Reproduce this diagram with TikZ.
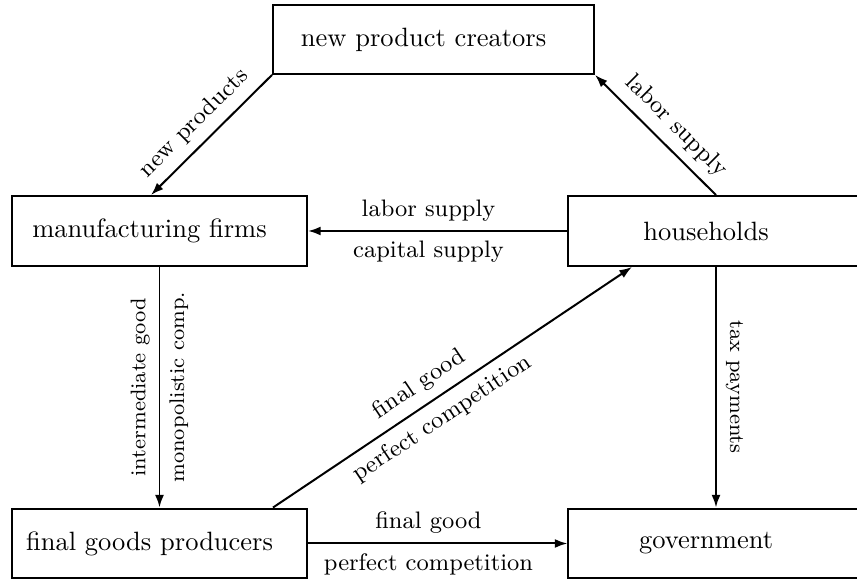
\documentclass[tikz,border=0pt]{standalone}
\usetikzlibrary{arrows.meta,calc}
\newcommand{\boxtxt}[1]{#1\hspace*{7.5pt}}
\begin{document}
\begin{tikzpicture}[x=0.3776pt,y=-0.3776pt,
  box/.style={draw, line width=0.75pt, minimum width=111.4pt, minimum height=26.4pt, inner sep=0pt},
  arr/.style={line width=0.75pt, -{Latex[length=4.8pt,width=3.4pt]}},
  lbl/.style={font=\small},
  hlbl/.style={font=\small, xshift=-3.5pt},
  vlbl/.style={font=\footnotesize}]
\useasboundingbox (0,0) rectangle (857,583);
\node[box, minimum width=121.2pt, minimum height=26pt] (npc) at (433.5,39.5) {\boxtxt{new product creators}};
\node[box] (mf) at (159.5,231) {\boxtxt{manufacturing firms}};
\node[box] (hh) at (716,231) {\boxtxt{households}};
\node[box] (fgp) at (159.5,543.5) {\boxtxt{final goods producers}};
\node[box] (gov) at (716,543.5) {\boxtxt{government}};
\coordinate (a1) at ($(mf.north)+(-8.5,0)$);
\coordinate (d1) at ($(fgp.north)+(113.5,0)$);
\coordinate (d2) at ($(hh.south)+(-84,0)$);
\draw[arr] (npc.south west) -- node[lbl, pos=0.5, sloped, above, xshift=-1.5pt] {new products} (a1);
\draw[arr] (hh.north) -- node[lbl, pos=0.45, sloped, above] {labor supply} (npc.south east);
\draw[arr] (hh.west) -- node[hlbl, midway, above] {labor supply} node[hlbl, midway, below] {capital supply} (mf.east);
\draw[arr] (mf.south) -- node[vlbl, midway, rotate=90, above] {intermediate good} node[vlbl, midway, rotate=90, below] {monopolistic comp.} (fgp.north);
\draw[arr] (d1) -- node[lbl, pos=0.44, sloped, above] {final good} node[lbl, pos=0.44, sloped, below] {perfect competition} (d2);
\draw[arr] (hh.south) -- node[vlbl, midway, rotate=-90, above] {tax payments} (gov.north);
\draw[arr] (fgp.east) -- node[hlbl, midway, above] {final good} node[hlbl, midway, below] {perfect competition} (gov.west);
\end{tikzpicture}
\end{document}
